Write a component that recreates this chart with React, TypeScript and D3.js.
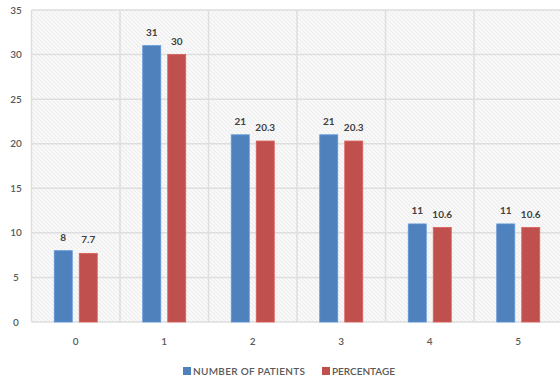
import React from "react";
import * as d3 from "d3";

const categories = ["0", "1", "2", "3", "4", "5"];
const patients = [8, 31, 21, 21, 11, 11];
const percentage = [7.7, 30, 20.3, 20.3, 10.6, 10.6];
const yTicks = [0, 5, 10, 15, 20, 25, 30, 35];
const seriesNames = ["NUMBER OF PATIENTS", "PERCENTAGE"];
const colors = ["#4F81BD", "#C0504D"];

const W = 560;
const H = 383;
const plot = { left: 31.5, right: 562.5, top: 10, bottom: 322 };
const font = "Lato, 'Open Sans', sans-serif";

export default function App() {
  const x = d3.scaleBand<string>().domain(categories).range([plot.left, plot.right]).padding(0);
  const y = d3.scaleLinear().domain([0, 35]).range([plot.bottom, plot.top]);
  const barW = 18;
  const half = 3.5;
  const series = [patients, percentage];

  return (
    <svg width={W} height={H} style={{ position: "absolute", left: 0, top: 0, background: "#fff" }}>
      <defs>
        <pattern id="hatch" width="4" height="4" patternUnits="userSpaceOnUse">
          <rect width="4" height="4" fill="#f8f8f8" />
          <path d="M-1,-1 L5,5 M-1,3 L1,5 M3,-1 L5,1" stroke="#e6e6e6" strokeWidth="0.7" />
        </pattern>
      </defs>
      <rect x={plot.left} y={plot.top} width={plot.right - plot.left} height={plot.bottom - plot.top} fill="url(#hatch)" />
      {yTicks.map((t) => (
        <line key={"h" + t} x1={plot.left} x2={plot.right} y1={y(t)} y2={y(t)} stroke="#dedede" strokeWidth={1.5} />
      ))}
      {categories.concat(["end"]).map((c, i) => {
        const xx = plot.left + i * x.bandwidth();
        return <line key={"v" + i} x1={xx} x2={xx} y1={plot.top} y2={plot.bottom} stroke="#dedede" strokeWidth={1.5} />;
      })}
      {yTicks.map((t) => (
        <text key={"yl" + t} x={16} y={y(t) + 3.5} textAnchor="middle" fontFamily={font} fontSize={10} fontWeight={600} fill="#595959">
          {t}
        </text>
      ))}
      {categories.map((c) => (
        <text key={"xl" + c} x={(x(c) as number) + x.bandwidth() / 2} y={345} textAnchor="middle" fontFamily={font} fontSize={10} fontWeight={600} fill="#595959">
          {c}
        </text>
      ))}
      {series.map((vals, s) =>
        categories.map((c, i) => {
          const cx = (x(c) as number) + x.bandwidth() / 2;
          const bx = s === 0 ? cx - half - barW : cx + half;
          const top = y(vals[i]);
          return (
            <g key={s + "-" + c}>
              <rect x={bx} y={top} width={barW} height={plot.bottom - top} fill={colors[s]} stroke={d3.color(colors[s])!.brighter(0.4).toString()} strokeWidth={0.8} />
              <text x={bx + barW / 2} y={top - 10} textAnchor="middle" fontFamily={font} fontSize={10} fontWeight={700} fill="#404040">
                {vals[i]}
              </text>
            </g>
          );
        })
      )}
      <g>
        <rect x={183} y={367} width={8} height={8} fill={colors[0]} />
        <text x={193} y={375} fontFamily={font} fontSize={10} fontWeight={600} fill="#595959" textLength={112}>{seriesNames[0]}</text>
        <rect x={322} y={367} width={8} height={8} fill={colors[1]} />
        <text x={332} y={375} fontFamily={font} fontSize={10} fontWeight={600} fill="#595959" textLength={63}>{seriesNames[1]}</text>
      </g>
    </svg>
  );
}
